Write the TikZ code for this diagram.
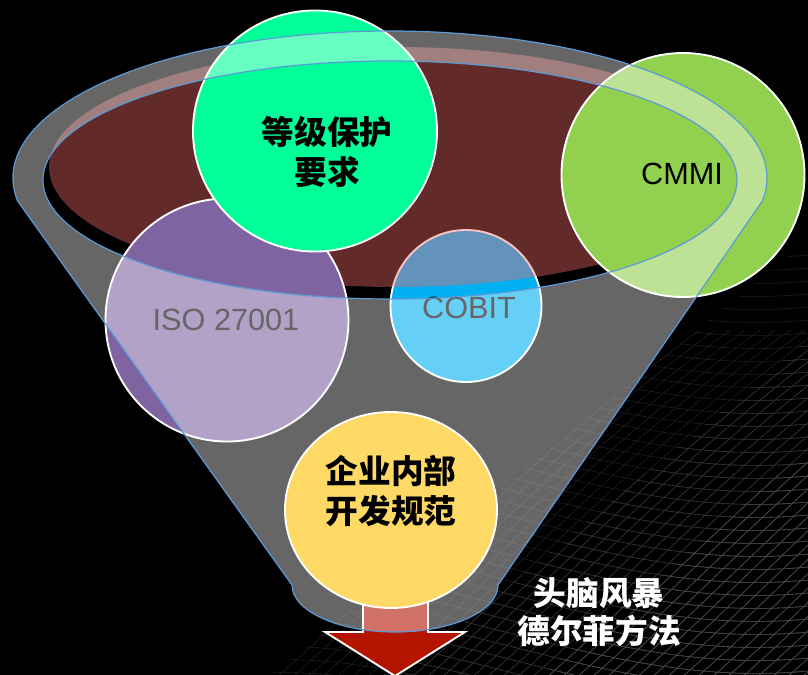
\documentclass[tikz,border=0pt]{standalone}
\usepackage{fontspec}
\setmainfont{Liberation Sans}
\newfontfamily\cjk{Noto Sans CJK SC}
\usetikzlibrary{calc}
\definecolor{funnelblue}{RGB}{91,155,213}
\definecolor{cobitblue}{RGB}{0,176,240}
\definecolor{redtint}{RGB}{248,105,105}
\definecolor{isopurple}{RGB}{128,100,162}
\definecolor{mlpsgreen}{RGB}{0,255,153}
\definecolor{cmmigreen}{RGB}{146,208,80}
\definecolor{arrowred}{RGB}{181,21,0}
\definecolor{yellowc}{RGB}{255,217,102}
\definecolor{meshdark}{RGB}{30,30,30}
\definecolor{meshmid}{RGB}{50,50,50}
\definecolor{meshlight}{RGB}{72,72,72}
\tikzset{
  cjkt/.style={font=\cjk\bfseries\fontsize{24.5}{30}\selectfont, align=center, inner sep=0pt},
  latin/.style={font=\fontsize{23}{27}\selectfont, inner sep=0pt},
  ball/.style={draw=white, line width=1.4pt},
  meshline/.style={line width=0.45pt},
  meshA/.style={},
}
\newcommand\meshlines[1]{%
  \foreach \y in {180,193,...,720}
    \draw[meshline, #1] (250,\y) .. controls (430,\y-15) and (600,\y+95) .. (808,\y+75);
  \foreach \x in {100,115,...,900}
    \draw[meshline, #1] (\x,700) .. controls (\x+110,610) and (\x+230,470) .. (\x+420,330);
}
\begin{document}
\begin{tikzpicture}[x=0.75pt,y=-0.75pt]
\fill[black] (0,0) rectangle (808,675);
\useasboundingbox (0,0) rectangle (808,675);
% decorative mesh
\begin{scope}
  \clip (270,675) -- (808,240) -- (808,675) -- cycle;
  \meshlines{meshdark}
\end{scope}
\begin{scope}
  \clip (400,675) -- (808,340) -- (808,675) -- cycle;
  \meshlines{meshmid}
\end{scope}
\begin{scope}
  \clip (540,675) -- (808,450) -- (808,675) -- cycle;
  \meshlines{meshlight}
\end{scope}
\coordinate (oc) at (390,178);
\coordinate (ic) at (390,180);
\coordinate (rc) at (396,167);
\coordinate (bc) at (395,585);
% COBIT (below the red tint)
\filldraw[ball, fill=cobitblue] (466,306) ellipse [x radius=75.5, y radius=76];
\node[latin] (cobit) at (469,308) {COBIT};
% red tint of the funnel mouth
\fill[redtint, opacity=0.4] (rc) ellipse [x radius=347, y radius=120];
% ISO 27001
\filldraw[ball, fill=isopurple] (227,320) ellipse [x radius=121.5, y radius=121.5];
\node[latin] (iso) at (226,320) {ISO 27001};
% grade protection
\filldraw[ball, fill=mlpsgreen] (315,131) ellipse [x radius=122, y radius=120.5];
\node[cjkt] (mlps) at (327,152) {等级保护\\要求};
% CMMI
\filldraw[ball, fill=cmmigreen] (683,175) ellipse [x radius=121.5, y radius=122];
\node[latin] (cmmi) at (682,174) {CMMI};
% output arrow
\filldraw[ball, fill=arrowred] (363,560) -- (363,632) -- (325,632) -- (395,676) -- (465,632) -- (428,632) -- (428,560) -- cycle;
% funnel overlay
\fill[white, opacity=0.4, even odd rule]
  ($(oc)+(171:377 and 147)$) arc[start angle=171, end angle=369, x radius=377, y radius=147]
  -- ($(bc)+(0:103 and 47)$) arc[start angle=0, end angle=180, x radius=103, y radius=47]
  -- cycle
  (ic) ellipse [x radius=347, y radius=119];
\draw[funnelblue, line width=0.9pt]
  ($(oc)+(171:377 and 147)$) arc[start angle=171, end angle=369, x radius=377, y radius=147]
  -- ($(bc)+(0:103 and 47)$) arc[start angle=0, end angle=180, x radius=103, y radius=47]
  -- cycle;
\draw[funnelblue, line width=0.9pt] (ic) ellipse [x radius=347, y radius=119];
% company internal rules
\filldraw[ball, fill=yellowc] (391,510) ellipse [x radius=106, y radius=98];
\node[cjkt] (corp) at (391,491) {企业内部\\开发规范};
% method label
\node[cjkt, text=white, font=\cjk\bfseries\fontsize{24.5}{28}\selectfont] (method) at (599,612) {头脑风暴\\德尔菲方法};
\end{tikzpicture}
\end{document}
